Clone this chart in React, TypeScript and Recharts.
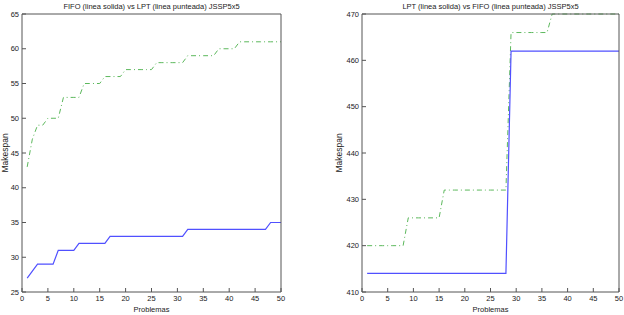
import { Line, LineChart, XAxis, YAxis } from 'recharts'

const problemas = [
  1, 2, 3, 4, 5, 6, 7, 8, 9, 10, 11, 12, 13, 14, 15, 16, 17, 18, 19, 20, 21, 22, 23, 24, 25,
  26, 27, 28, 29, 30, 31, 32, 33, 34, 35, 36, 37, 38, 39, 40, 41, 42, 43, 44, 45, 46, 47, 48, 49, 50,
]

// grafico izquierdo: FIFO solida, LPT punteada
const fifoLeft = [
  27, 28, 29, 29, 29, 29, 31, 31, 31, 31, 32, 32, 32, 32, 32, 32, 33, 33, 33, 33, 33, 33, 33, 33, 33,
  33, 33, 33, 33, 33, 33, 34, 34, 34, 34, 34, 34, 34, 34, 34, 34, 34, 34, 34, 34, 34, 34, 35, 35, 35,
]
const lptLeft = [
  43, 47, 49, 49, 50, 50, 50, 53, 53, 53, 53, 55, 55, 55, 55, 56, 56, 56, 56, 57, 57, 57, 57, 57, 57,
  58, 58, 58, 58, 58, 58, 59, 59, 59, 59, 59, 59, 60, 60, 60, 60, 61, 61, 61, 61, 61, 61, 61, 61, 61,
]

// grafico derecho: LPT solida, FIFO punteada
const lptRight = [
  414, 414, 414, 414, 414, 414, 414, 414, 414, 414, 414, 414, 414, 414, 414, 414, 414, 414, 414, 414,
  414, 414, 414, 414, 414, 414, 414, 414, 462, 462, 462, 462, 462, 462, 462, 462, 462, 462, 462, 462,
  462, 462, 462, 462, 462, 462, 462, 462, 462, 462,
]
const fifoRight = [
  420, 420, 420, 420, 420, 420, 420, 420, 426, 426, 426, 426, 426, 426, 426, 432, 432, 432, 432, 432,
  432, 432, 432, 432, 432, 432, 432, 432, 466, 466, 466, 466, 466, 466, 466, 466, 470, 470, 470, 470,
  470, 470, 470, 470, 470, 470, 470, 470, 470, 470,
]

const xTicks = [0, 5, 10, 15, 20, 25, 30, 35, 40, 45, 50]
const yTicksLeft = [25, 30, 35, 40, 45, 50, 55, 60, 65]
const yTicksRight = [410, 420, 430, 440, 450, 460, 470]

const leftData = problemas.map((p, i) => ({ p, solid: fifoLeft[i], dashed: lptLeft[i] }))
const rightData = problemas.map((p, i) => ({ p, solid: lptRight[i], dashed: fifoRight[i] }))

const AXIS = '#555'
const TXT = '#222'
const tickStyle = { fontSize: 7.5, fill: TXT }

interface PanelProps {
  data: { p: number; solid: number; dashed: number }[]
  title: string
  yTicks: number[]
  yDomain: [number, number]
  yWidth: number
  labelOffset: number
  marginRight: number
}

const Panel = ({ data, title, yTicks, yDomain, yWidth, labelOffset, marginRight }: PanelProps) => (
  <LineChart
    width={312}
    height={315}
    data={data}
    margin={{ top: 13, right: marginRight - 1, bottom: 0, left: 0 }}
  >
    <XAxis
      dataKey={'p'}
      type={'number'}
      domain={[0, 50]}
      ticks={xTicks}
      interval={0}
      height={23}
      tickSize={-4}
      tickMargin={8}
      tick={tickStyle}
      stroke={AXIS}
      label={{ value: 'Problemas', position: 'insideBottom', offset: 3, fontSize: 7.5, fill: TXT }}
    />
    <XAxis
      xAxisId={'top'}
      orientation={'top'}
      dataKey={'p'}
      type={'number'}
      domain={[0, 50]}
      ticks={xTicks}
      interval={0}
      height={1}
      tickSize={-4}
      tickMargin={0}
      tick={false}
      stroke={AXIS}
      label={{ value: title, position: 'top', offset: 4, fontSize: 7.5, fill: TXT }}
    />
    <YAxis
      type={'number'}
      domain={yDomain}
      ticks={yTicks}
      interval={0}
      width={yWidth}
      tickSize={-4}
      tickMargin={7}
      tick={tickStyle}
      stroke={AXIS}
      label={{
        value: 'Makespan',
        angle: -90,
        position: 'insideLeft',
        offset: labelOffset,
        fontSize: 8.5,
        fill: TXT,
        style: { textAnchor: 'middle' },
      }}
    />
    <YAxis
      yAxisId={'right'}
      orientation={'right'}
      type={'number'}
      domain={yDomain}
      ticks={yTicks}
      interval={0}
      width={1}
      tickSize={-4}
      tickMargin={0}
      tick={false}
      stroke={AXIS}
    />
    <Line
      type={'linear'}
      dataKey={'dashed'}
      stroke={'#5cb85c'}
      strokeWidth={1}
      strokeDasharray={'5 3 1 3'}
      dot={false}
      isAnimationActive={false}
    />
    <Line
      type={'linear'}
      dataKey={'solid'}
      stroke={'#5050ff'}
      strokeWidth={1.2}
      dot={false}
      isAnimationActive={false}
    />
  </LineChart>
)

export default function App() {
  return (
    <div
      style={{
        position: 'absolute',
        top: 0,
        left: 0,
        width: 624,
        height: 315,
        background: '#fff',
        fontFamily: '"Liberation Sans", Arial, sans-serif',
      }}
    >
      <div style={{ position: 'absolute', left: 0, top: 0 }}>
        <Panel
          data={leftData}
          title={'FIFO (linea solida) vs LPT (linea punteada) JSSP5x5'}
          yTicks={yTicksLeft}
          yDomain={[25, 65]}
          yWidth={22}
          labelOffset={5}
          marginRight={31}
        />
      </div>
      <div style={{ position: 'absolute', left: 312, top: 0 }}>
        <Panel
          data={rightData}
          title={'LPT (linea solida) vs FIFO (linea punteada) JSSP5x5'}
          yTicks={yTicksRight}
          yDomain={[410, 470]}
          yWidth={50}
          labelOffset={27}
          marginRight={5}
        />
      </div>
    </div>
  )
}
